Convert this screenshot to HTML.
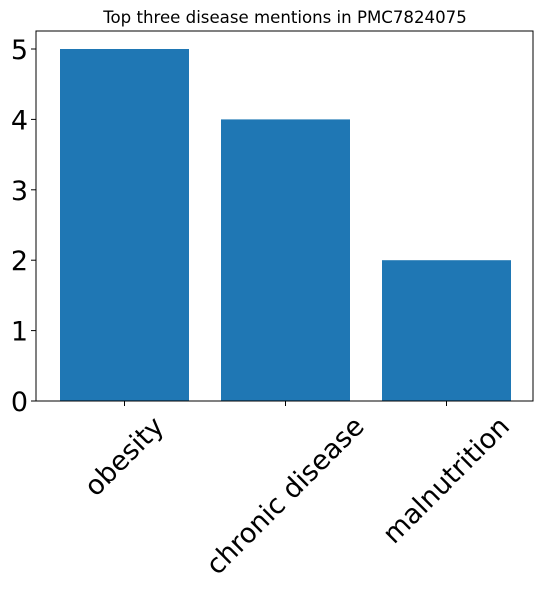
<!DOCTYPE html>
<html><head><meta charset="utf-8"><style>
html,body{margin:0;padding:0;background:#fff}
svg{display:block;font-family:"DejaVu Sans","Liberation Sans",sans-serif}
</style></head><body>
<svg id="c" width="543" height="593" viewBox="0 0 543 593">
<text x="285" y="23" font-size="16.6" text-anchor="middle">Top three disease mentions in PMC7824075</text>
<g id="bars"></g>
<g id="yt"></g>
<g id="xt"></g>
<rect x="36" y="31" width="497" height="370" fill="none" stroke="#000" stroke-width="1"/>
</svg>
<script>
const categories=["obesity","chronic disease","malnutrition"];
const values=[5,4,2];
const yTicks=[0,1,2,3,4,5];
const NS="http://www.w3.org/2000/svg";
function y(v){return 401-v*70.4;}
function xc(i){return 124.5+161*i;}
const bw=129;
const bars=document.getElementById('bars'),yt=document.getElementById('yt'),xt=document.getElementById('xt');
values.forEach((v,i)=>{
 const r=document.createElementNS(NS,'rect');
 r.setAttribute('x',xc(i)-bw/2);r.setAttribute('y',y(v));
 r.setAttribute('width',bw);r.setAttribute('height',y(0)-y(v));
 r.setAttribute('fill','#1f77b4');
 
 
 bars.appendChild(r);
});
yTicks.forEach(t=>{
 const l=document.createElementNS(NS,'line');
 l.setAttribute('x1',31);l.setAttribute('x2',36);l.setAttribute('y1',y(t));l.setAttribute('y2',y(t));l.setAttribute('stroke','#000');
 
 
 yt.appendChild(l);
 const tx=document.createElementNS(NS,'text');
 tx.setAttribute('x',28);tx.setAttribute('y',y(t)+10);tx.setAttribute('font-size','27');tx.setAttribute('text-anchor','end');
 tx.textContent=t;
 
 
 yt.appendChild(tx);
});
categories.forEach((c,i)=>{
 const l=document.createElementNS(NS,'line');
 l.setAttribute('x1',xc(i));l.setAttribute('x2',xc(i));l.setAttribute('y1',401);l.setAttribute('y2',406);l.setAttribute('stroke','#000');
 
 
 xt.appendChild(l);
 const g=document.createElementNS(NS,'g');
 const tx=document.createElementNS(NS,'text');
 tx.setAttribute('font-size','27');tx.setAttribute('transform','rotate(-45)');
 tx.textContent=c;
 
 
 g.appendChild(tx);xt.appendChild(g);
 const b=g.getBoundingClientRect();
 g.setAttribute('transform','translate('+(xc(i)-(b.left+b.width/2))+','+(411-b.top)+')');
});
</script>
</body></html>
